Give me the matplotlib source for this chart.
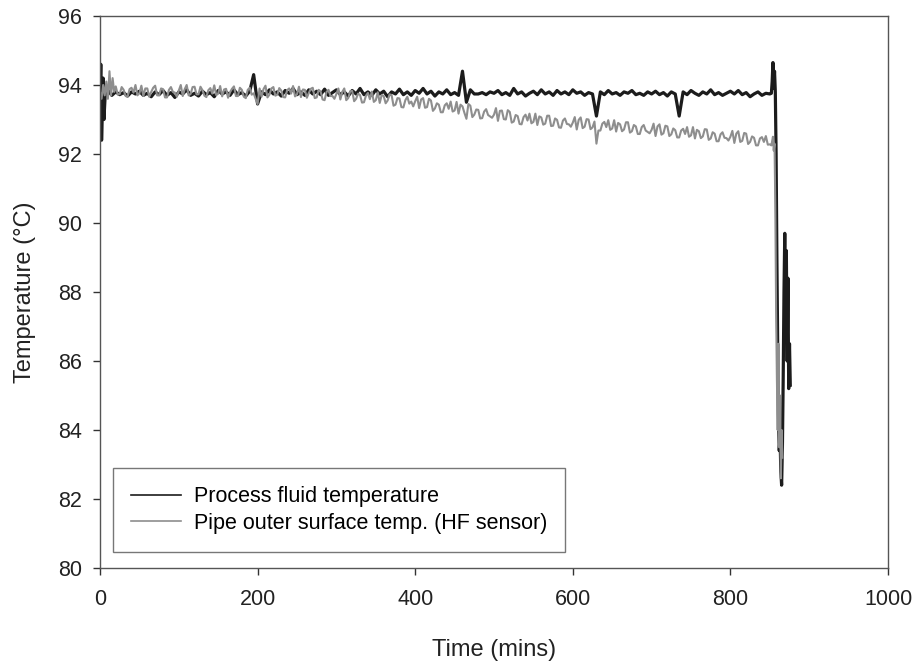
import numpy as np
import matplotlib
matplotlib.use("Agg")
import matplotlib.pyplot as plt

plt.rcParams['font.family'] = ['Liberation Sans', 'DejaVu Sans']

# Process fluid temperature (degC)
fluid_start_t = [0, 1, 2, 3, 4, 5, 7]
fluid_start = [93.6, 94.6, 92.4, 93.2, 94.2, 93.0, 93.9]

# sampled every 5 min from t = 10 to 850
fluid_main = [
    93.85, 93.70, 93.80, 93.72, 93.78, 93.68, 93.80, 93.74, 93.82, 93.70,
    93.76, 93.66, 93.80, 93.72, 93.84, 93.70, 93.78, 93.64, 93.80, 93.74,
    93.86, 93.70, 93.76, 93.68, 93.82, 93.72, 93.78, 93.66, 93.84, 93.74,
    93.80, 93.70, 93.86, 93.72, 93.78, 93.68, 93.82, 94.30, 93.45, 93.80,
    93.72, 93.86, 93.74, 93.80, 93.68, 93.84, 93.76, 93.90, 93.72, 93.80,
    93.70, 93.86, 93.74, 93.82, 93.72, 93.88, 93.70, 93.78, 93.86, 93.72,
    93.80, 93.68, 93.84, 93.74, 93.90, 93.72, 93.80, 93.70, 93.86, 93.74,
    93.82, 93.66, 93.80, 93.74, 93.88, 93.72, 93.80, 93.70, 93.84, 93.76,
    93.90, 93.74, 93.82, 93.68, 93.80, 93.74, 93.86, 93.72, 93.78, 93.70,
    94.40, 93.50, 93.86, 93.74, 93.74, 93.78, 93.72, 93.80, 93.76, 93.84,
    93.72, 93.78, 93.70, 93.90, 93.74, 93.80, 93.68, 93.76, 93.82, 93.72,
    93.86, 93.74, 93.80, 93.70, 93.84, 93.74, 93.80, 93.72, 93.86, 93.76,
    93.80, 93.70, 93.78, 93.74, 93.10, 93.80, 93.72, 93.84, 93.74, 93.78,
    93.70, 93.80, 93.76, 93.84, 93.72, 93.76, 93.70, 93.80, 93.74, 93.82,
    93.72, 93.78, 93.68, 93.80, 93.74, 93.10, 93.80, 93.72, 93.84, 93.76,
    93.70, 93.80, 93.74, 93.86, 93.72, 93.78, 93.70, 93.76, 93.82, 93.74,
    93.84, 93.72, 93.78, 93.66, 93.74, 93.80, 93.70, 93.76, 93.74,
]

fluid_end_t = [852, 853, 854, 855, 856, 857, 858, 859, 860, 861, 862, 863,
               864, 865, 866, 867, 868, 869, 870, 871, 872, 873, 874, 875, 876]
fluid_end = [93.76, 94.10, 94.65, 93.90, 94.40, 93.80, 92.00, 89.00, 86.50,
             84.50, 83.40, 83.80, 82.80, 82.40, 83.50, 85.50, 88.00, 89.70,
             87.00, 89.20, 86.00, 88.40, 85.20, 86.50, 85.30]

# Pipe outer surface temperature from the HF sensor (degC)
pipe_start_t = [0, 2, 4, 6, 8, 10, 12, 14, 16, 18]
pipe_start = [93.8, 93.6, 94.0, 93.7, 94.1, 93.6, 94.4, 93.7, 94.2, 93.8]

# sampled every 5 min from t = 20 to 850
pipe_main = [
    93.96, 93.74, 93.86, 93.66, 93.92, 94.00, 93.76, 93.68, 93.90, 93.80,
    93.98, 93.70, 93.88, 93.64, 93.94, 93.78, 93.84, 93.68, 94.00, 93.74,
    93.95, 93.73, 93.85, 93.65, 93.91, 93.99, 93.75, 93.67, 93.89, 93.79,
    93.96, 93.68, 93.86, 93.62, 93.92, 93.76, 93.45, 93.66, 93.98, 93.72,
    93.94, 93.72, 93.84, 93.64, 93.90, 93.97, 93.73, 93.65, 93.86, 93.77,
    93.92, 93.64, 93.81, 93.56, 93.86, 93.68, 93.74, 93.58, 93.90, 93.62,
    93.83, 93.60, 93.71, 93.50, 93.77, 93.81, 93.56, 93.48, 93.68, 93.55,
    93.71, 93.43, 93.61, 93.35, 93.66, 93.52, 93.53, 93.33, 93.62, 93.36,
    93.55, 93.32, 93.43, 93.21, 93.47, 93.52, 93.26, 93.17, 93.38, 93.02,
    93.40, 93.14, 93.28, 93.04, 93.30, 93.09, 93.14, 92.96, 93.26, 93.00,
    93.22, 92.94, 93.10, 92.86, 93.14, 93.17, 92.93, 92.84, 93.06, 92.88,
    93.11, 92.82, 92.99, 92.76, 93.03, 92.86, 92.91, 92.71, 93.06, 92.79,
    93.00, 92.77, 92.30, 92.68, 92.93, 92.98, 92.74, 92.65, 92.86, 92.71,
    92.92, 92.66, 92.80, 92.58, 92.84, 92.64, 92.70, 92.52, 92.86, 92.60,
    92.80, 92.57, 92.69, 92.48, 92.73, 92.78, 92.54, 92.45, 92.66, 92.51,
    92.71, 92.45, 92.59, 92.37, 92.63, 92.46, 92.50, 92.32, 92.66, 92.38,
    92.59, 92.35, 92.47, 92.25, 92.49, 92.52, 92.28,
]

# in-between readings, every 5 min from t = 22.5 to 847.5
pipe_mid = [
    93.72, 93.94, 93.68, 93.88, 93.78, 93.70, 93.98, 93.90, 93.66, 93.92,
    93.70, 93.90, 93.64, 93.86, 93.80, 93.66, 94.00, 93.88, 93.70, 93.94,
    93.73, 93.95, 93.69, 93.85, 93.75, 93.71, 93.97, 93.87, 93.63, 93.89,
    93.68, 93.92, 93.66, 93.86, 93.72, 93.60, 93.90, 93.88, 93.64, 93.90,
    93.69, 93.91, 93.65, 93.85, 93.75, 93.67, 93.95, 93.87, 93.63, 93.89,
    93.62, 93.86, 93.58, 93.80, 93.68, 93.60, 93.90, 93.80, 93.56, 93.82,
    93.53, 93.75, 93.49, 93.69, 93.59, 93.51, 93.79, 93.71, 93.47, 93.73,
    93.40, 93.62, 93.36, 93.56, 93.46, 93.38, 93.66, 93.58, 93.34, 93.60,
    93.25, 93.47, 93.21, 93.41, 93.31, 93.23, 93.51, 93.43, 93.19, 93.45,
    93.07, 93.29, 93.03, 93.23, 93.13, 93.05, 93.33, 93.25, 93.01, 93.27,
    92.91, 93.13, 92.87, 93.07, 92.97, 92.89, 93.17, 93.09, 92.85, 93.11,
    92.81, 93.03, 92.77, 92.97, 92.87, 92.79, 93.07, 92.99, 92.75, 93.01,
    92.72, 92.94, 92.68, 92.88, 92.78, 92.70, 92.98, 92.90, 92.66, 92.92,
    92.62, 92.84, 92.58, 92.78, 92.68, 92.60, 92.88, 92.80, 92.56, 92.82,
    92.52, 92.74, 92.48, 92.68, 92.58, 92.50, 92.78, 92.70, 92.46, 92.72,
    92.41, 92.63, 92.37, 92.57, 92.47, 92.39, 92.67, 92.59, 92.35, 92.61,
    92.29, 92.51, 92.25, 92.45, 92.35, 92.27,
]

pipe_end_t = [852, 854, 855, 856, 857, 858, 859, 860, 861, 862, 863, 864, 865, 866]
pipe_end = [92.25, 92.50, 92.10, 92.30, 90.50, 87.50, 85.50, 84.00, 86.50,
            83.50, 85.00, 82.60, 84.00, 83.20]

fluid_t = np.concatenate([fluid_start_t, 10 + 5 * np.arange(len(fluid_main)), fluid_end_t])
fluid = np.concatenate([fluid_start, fluid_main, fluid_end])

pipe_t = np.concatenate([pipe_start_t, 20 + 5 * np.arange(len(pipe_main)),
                         22.5 + 5 * np.arange(len(pipe_mid)), pipe_end_t])
pipe = np.concatenate([pipe_start, pipe_main, pipe_mid, pipe_end])
order = np.argsort(pipe_t, kind='stable')
pipe_t, pipe = pipe_t[order], pipe[order]

fig = plt.figure(figsize=(9.13, 6.67), dpi=100)
ax = fig.add_axes([100 / 913, 1 - 568 / 667, 788 / 913, 552 / 667])

ax.plot(fluid_t, fluid, color='#1c1c1c', lw=2.3, label='Process fluid temperature')
ax.plot(pipe_t, pipe, color='#8e8e8e', lw=1.5, label='Pipe outer surface temp. (HF sensor)')

ax.set_xlim(0, 1000)
ax.set_ylim(80, 96)
ax.set_xticks(np.arange(0, 1001, 200))
ax.set_yticks(np.arange(80, 97, 2))
ax.tick_params(direction='out', length=5, width=1, colors='#333333',
               labelsize=15.5, labelcolor='#222222')
ax.tick_params(axis='x', pad=10)
ax.tick_params(axis='y', pad=8)
for s in ax.spines.values():
    s.set_color('#555555')
    s.set_linewidth(1.0)

ax.set_xlabel('Time (mins)', fontsize=17, color='#222222', labelpad=21)
ax.set_ylabel('Temperature (°C)', fontsize=17, color='#222222', labelpad=16)

leg = ax.legend(loc='lower left', bbox_to_anchor=(0.0165, 0.029), borderaxespad=0,
                fancybox=False, frameon=True, fontsize=15.5, handlelength=2.3,
                handletextpad=0.6, borderpad=0.85, labelspacing=0.25)
leg.get_frame().set_edgecolor('#555555')
leg.get_frame().set_linewidth(1.0)
for line in leg.get_lines():
    line.set_linewidth(1.2)

fig.savefig('out.png', dpi=100)
